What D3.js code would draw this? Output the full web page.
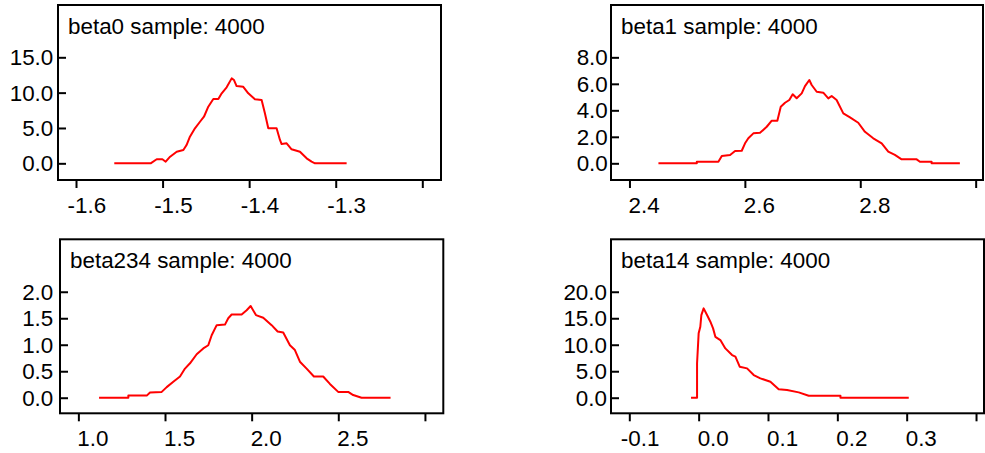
<!DOCTYPE html>
<html>
<head>
<meta charset="utf-8">
<script src="https://cdn.jsdelivr.net/npm/d3@7"></script>
<style>
  html, body { margin: 0; padding: 0; background: #fff; }
  svg { display: block; }
  text { font-family: "Liberation Sans", Arial, sans-serif; }
</style>
</head>
<body>
<svg id="chart" width="985" height="453"></svg>
<script>
// ---------- data ----------
const titles = ["beta0 sample: 4000", "beta1 sample: 4000", "beta234 sample: 4000", "beta14 sample: 4000"];

const beta0X = [-1.5558, -1.5138, -1.5068, -1.5002, -1.4964, -1.4913, -1.4837, -1.476, -1.4723, -1.4684, -1.4626, -1.4568, -1.4522, -1.4472, -1.4414, -1.4356, -1.4317, -1.426, -1.4202, -1.4175, -1.4145, -1.4068, -1.401, -1.3933, -1.3856, -1.3818, -1.3779, -1.3683, -1.3644, -1.3625, -1.3567, -1.351, -1.3413, -1.3336, -1.3279, -1.324, -1.2874];
const beta0Y = [0, 0, 0.57, 0.57, 0.23, 0.94, 1.64, 1.88, 2.59, 3.76, 4.95, 5.88, 6.59, 8.01, 9.09, 9.09, 9.9, 10.75, 12.02, 11.78, 10.93, 10.83, 9.9, 9.05, 8.95, 7.07, 4.95, 4.95, 3.3, 2.73, 2.83, 1.98, 1.64, 0.71, 0.23, 0, 0];

const beta1X = [2.4502, 2.5167, 2.5167, 2.5541, 2.56, 2.5744, 2.583, 2.5946, 2.6003, 2.606, 2.6147, 2.6263, 2.6379, 2.6466, 2.6563, 2.6622, 2.6696, 2.677, 2.6829, 2.6898, 2.6985, 2.7042, 2.7117, 2.7158, 2.7245, 2.7359, 2.7446, 2.7504, 2.759, 2.7706, 2.7822, 2.7965, 2.8081, 2.8225, 2.8371, 2.8485, 2.86, 2.8717, 2.8977, 2.9034, 2.9236, 2.9236, 2.9726];
const beta1Y = [0, 0, 0.12, 0.12, 0.55, 0.63, 0.93, 0.95, 1.51, 1.89, 2.26, 2.3, 2.76, 3.22, 3.22, 4.27, 4.57, 4.78, 5.21, 4.91, 5.28, 5.83, 6.29, 5.91, 5.4, 5.33, 4.9, 5.08, 4.78, 3.77, 3.47, 3.06, 2.38, 1.89, 1.51, 0.88, 0.63, 0.3, 0.3, 0.12, 0.12, 0, 0];

const beta234X = [1.1194, 1.2884, 1.2884, 1.3945, 1.4135, 1.481, 1.5098, 1.5479, 1.5865, 1.6153, 1.6442, 1.6828, 1.7209, 1.7497, 1.7693, 1.7982, 1.846, 1.865, 1.8846, 1.9423, 1.9711, 1.9942, 2.0248, 2.0669, 2.1153, 2.1499, 2.1822, 2.2209, 2.2497, 2.2785, 2.3172, 2.3593, 2.4129, 2.4516, 2.4994, 2.5571, 2.5859, 2.6344, 2.8016];
const beta234Y = [0, 0, 0.04, 0.04, 0.1, 0.11, 0.2, 0.3, 0.4, 0.55, 0.65, 0.82, 0.93, 0.99, 1.18, 1.37, 1.38, 1.5, 1.57, 1.57, 1.65, 1.73, 1.56, 1.51, 1.37, 1.25, 1.23, 0.99, 0.9, 0.68, 0.55, 0.4, 0.4, 0.26, 0.11, 0.11, 0.05, 0, 0];

const beta14X = [-0.011, -0.0023, -0.0023, 0.0, 0.0024, 0.0039, 0.0072, 0.0121, 0.0169, 0.0208, 0.0241, 0.0313, 0.0385, 0.0482, 0.053, 0.0592, 0.0698, 0.0794, 0.089, 0.1035, 0.1154, 0.1275, 0.1443, 0.1587, 0.2045, 0.2045, 0.303];
const beta14Y = [0, 0, 6.49, 12.15, 13.4, 15.6, 16.87, 15.6, 14.34, 13.09, 11.5, 10.88, 9.31, 8.05, 7.74, 5.85, 5.54, 4.28, 3.65, 3.02, 1.58, 1.45, 1.01, 0.38, 0.38, 0, 0];

const beta0XTicks = [-1.6, -1.5, -1.4, -1.3, -1.2];
const beta0XLabels = ["-1.6", "-1.5", "-1.4", "-1.3", ""];
const beta0YTicks = [0, 5, 10, 15];
const beta1XTicks = [2.4, 2.6, 2.8, 3.0];
const beta1XLabels = ["2.4", "2.6", "2.8", ""];
const beta1YTicks = [0, 2, 4, 6, 8];
const beta234XTicks = [1.0, 1.5, 2.0, 2.5, 3.0];
const beta234XLabels = ["1.0", "1.5", "2.0", "2.5", ""];
const beta234YTicks = [0, 0.5, 1.0, 1.5, 2.0];
const beta14XTicks = [-0.1, 0.0, 0.1, 0.2, 0.3, 0.4];
const beta14XLabels = ["-0.1", "0.0", "0.1", "0.2", "0.3", ""];
const beta14YTicks = [0, 5, 10, 15, 20];

// ---------- layout ----------
const panels = [
  { title: titles[0], xs: beta0X, ys: beta0Y, xt: beta0XTicks, xl: beta0XLabels, yt: beta0YTicks,
    L: 58, T: 5, R: 441, B: 180, xDom: [-1.6208, -1.1784], yDom: [-2.36, 22.4], labRight: 53.3 },
  { title: titles[1], xs: beta1X, ys: beta1Y, xt: beta1XTicks, xl: beta1XLabels, yt: beta1YTicks,
    L: 611, T: 5, R: 983, B: 180, xDom: [2.368, 3.0127], yDom: [-1.26, 11.95], labRight: 607.8 },
  { title: titles[2], xs: beta234X, ys: beta234Y, xt: beta234XTicks, xl: beta234XLabels, yt: beta234YTicks,
    L: 60, T: 239.3, R: 443.3, B: 413.3, xDom: [0.894, 3.106], yDom: [-0.294, 2.99], labRight: 53.3 },
  { title: titles[3], xs: beta14X, ys: beta14Y, xt: beta14XTicks, xl: beta14XLabels, yt: beta14YTicks,
    L: 611, T: 239.3, R: 984, B: 413.3, xDom: [-0.1264, 0.4115], yDom: [-2.94, 29.9], labRight: 607 }
];

const svg = d3.select("#chart");
const FS = 22.4;

panels.forEach(p => {
  const x = d3.scaleLinear().domain(p.xDom).range([p.L, p.R]);
  const y = d3.scaleLinear().domain(p.yDom).range([p.B, p.T]);
  const g = svg.append("g");

  // frame
  g.append("rect")
    .attr("x", p.L).attr("y", p.T)
    .attr("width", p.R - p.L).attr("height", p.B - p.T)
    .attr("fill", "none").attr("stroke", "#000").attr("stroke-width", 2);

  // x axis (ticks outward)
  const xa = g.append("g").attr("transform", `translate(0,${p.B})`)
    .call(d3.axisBottom(x).tickValues(p.xt).tickSize(8).tickSizeOuter(0)
      .tickFormat((d, i) => p.xl[i]));
  xa.select(".domain").remove();
  xa.selectAll(".tick line").attr("stroke", "#000").attr("stroke-width", 2);
  xa.selectAll(".tick text")
    .attr("fill", "#000")
    .style("font-size", FS + "px")
    .attr("text-anchor", "start")
    .attr("y", 33).attr("dy", 0)
    .attr("x", -1.5)
    .attr("dx", (d) => d < 0 ? "-0.333em" : "0");

  // y axis (ticks inward)
  const ya = g.append("g").attr("transform", `translate(${p.L},0)`)
    .call(d3.axisLeft(y).tickValues(p.yt).tickSizeInner(-8).tickSizeOuter(0)
      .tickPadding(p.L - p.labRight).tickFormat(d3.format(".1f")));
  ya.select(".domain").remove();
  ya.selectAll(".tick line").attr("stroke", "#000").attr("stroke-width", 2);
  ya.selectAll(".tick text")
    .attr("fill", "#000")
    .style("font-size", FS + "px")
    .attr("dy", "0.33em");

  // title
  g.append("text")
    .attr("x", p.L + 10).attr("y", p.T + 29)
    .attr("fill", "#000")
    .style("font-size", FS + "px")
    .text(p.title);

  // curve
  const pts = p.xs.map((v, i) => [v, p.ys[i]]);
  g.append("path")
    .datum(pts)
    .attr("fill", "none")
    .attr("stroke", "#ff0000")
    .attr("stroke-width", 2)
    .attr("stroke-linejoin", "round")
    .attr("d", d3.line().x(d => x(d[0])).y(d => y(d[1])));
});
</script>
</body>
</html>
